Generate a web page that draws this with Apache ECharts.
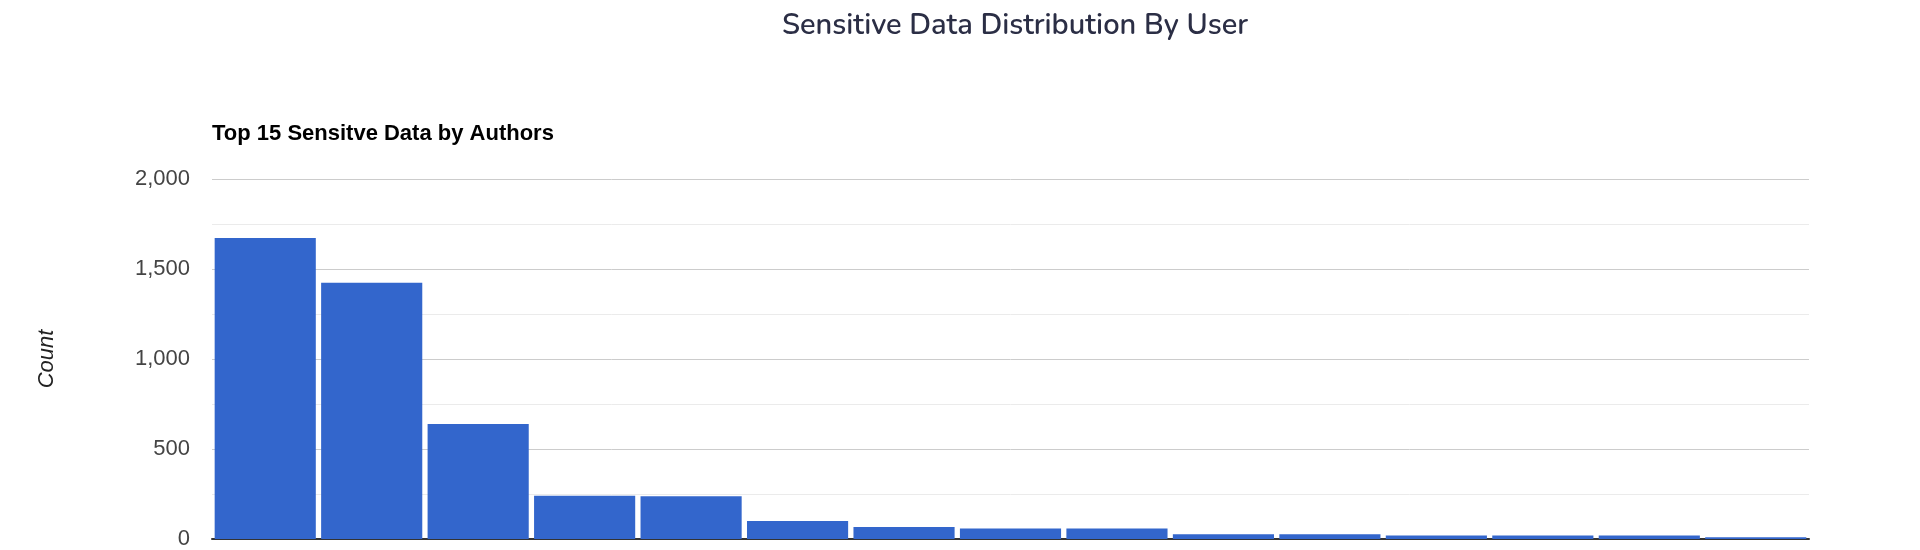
<!DOCTYPE html>
<html>
<head>
<meta charset="utf-8">
<title>Sensitive Data Distribution By User</title>
<script src="https://cdn.jsdelivr.net/npm/echarts@6/dist/echarts.min.js"></script>
<style>
  html, body { margin: 0; padding: 0; background: #fff; }
  #chart { width: 1920px; height: 550px; }
</style>
</head>
<body>
<div id="chart"></div>
<script>
// top 15 authors, names are not shown on the chart
var authors = ['Author 1', 'Author 2', 'Author 3', 'Author 4', 'Author 5',
  'Author 6', 'Author 7', 'Author 8', 'Author 9', 'Author 10',
  'Author 11', 'Author 12', 'Author 13', 'Author 14', 'Author 15']
var counts = [1672, 1423, 639, 240, 238, 100, 67, 58, 59, 26, 26, 20, 20, 20, 10]
var yTicks = [0, 500, 1000, 1500, 2000]

var chart = echarts.init(document.getElementById('chart'))

chart.setOption({
  animation: false,
  title: [
    {
      text: 'Sensitive Data Distribution By User',
      left: 1010,
      textAlign: 'center',
      top: 7,
      textStyle: { fontFamily: 'Nunito, "Noto Sans", sans-serif', fontSize: 29, fontWeight: 600, color: '#2b2e45' }
    },
    {
      text: 'Top 15 Sensitve Data by Authors',
      left: 207,
      top: 118,
      textStyle: { fontFamily: '"Liberation Sans", Arial, sans-serif', fontSize: 22, fontWeight: 'bold', color: '#000' }
    }
  ],
  grid: { left: 212, right: 111, top: 179, bottom: 10, containLabel: false },
  xAxis: {
    type: 'category',
    data: authors,
    axisLine: { show: true, lineStyle: { color: '#333', width: 2 } },
    axisTick: { show: false },
    axisLabel: { show: false }
  },
  yAxis: {
    type: 'value',
    min: yTicks[0],
    max: yTicks[yTicks.length - 1],
    interval: 500,
    name: 'Count',
    nameLocation: 'middle',
    nameRotate: 90,
    nameGap: 154,
    nameTextStyle: { fontFamily: '"Liberation Sans", Arial, sans-serif', fontSize: 22, fontStyle: 'italic', color: '#222' },
    axisLine: { show: false },
    axisTick: { show: false },
    axisLabel: {
      margin: 22,
      fontFamily: '"Liberation Sans", Arial, sans-serif',
      fontSize: 22,
      color: '#444',
      formatter: function (v) { return v.toLocaleString('en-US') }
    },
    splitLine: { lineStyle: { color: '#ccc', width: 1 } },
    minorTick: { show: false, splitNumber: 2 },
    minorSplitLine: { show: true, lineStyle: { color: '#ebebeb', width: 1 } }
  },
  series: [{
    type: 'bar',
    data: counts,
    barCategoryGap: '5%',
    itemStyle: { color: '#3366cc' }
  }]
})
</script>
</body>
</html>
